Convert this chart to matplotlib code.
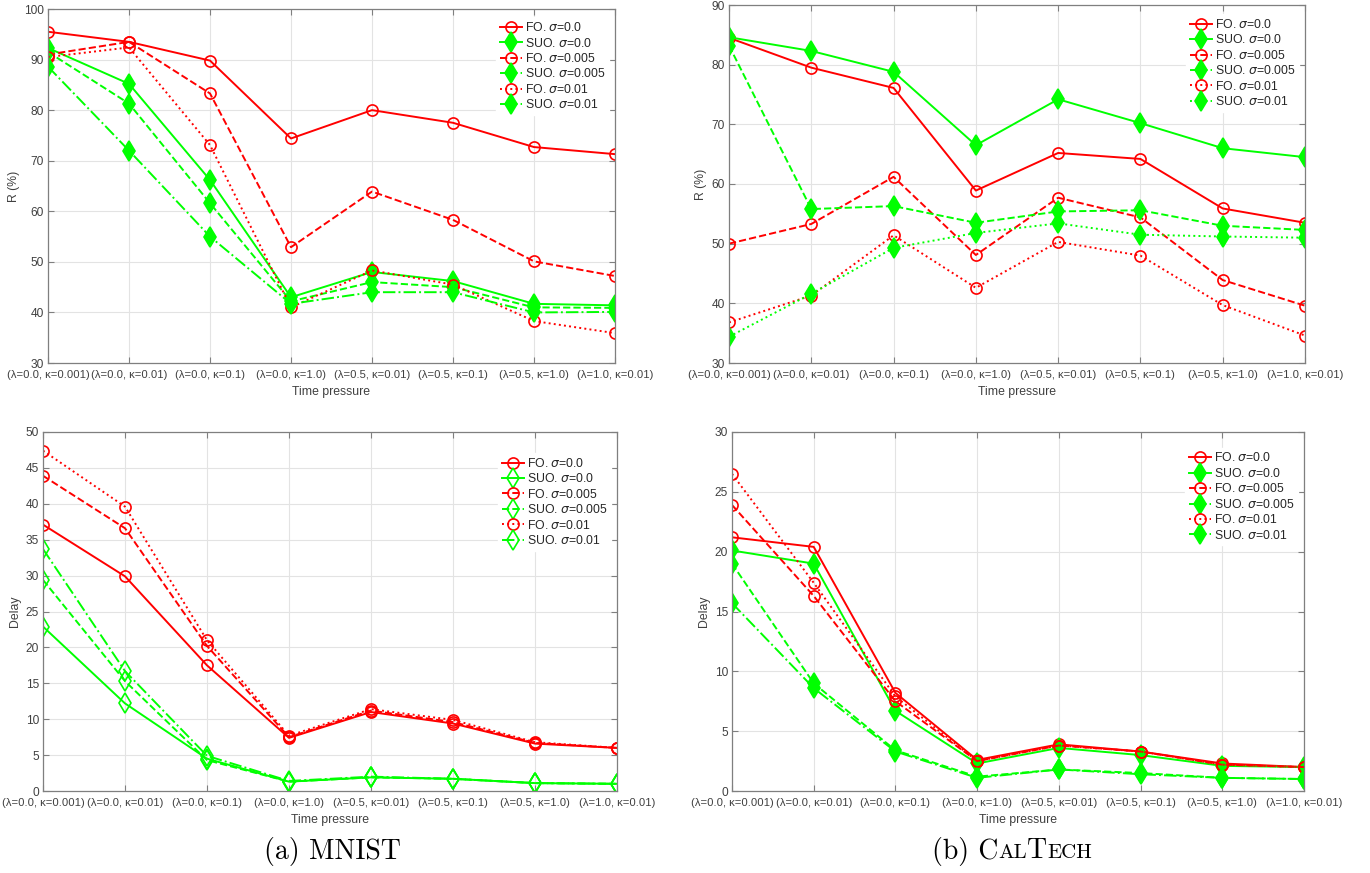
import matplotlib
matplotlib.use("Agg")
import matplotlib.pyplot as plt
from matplotlib.offsetbox import TextArea, HPacker, AnchoredOffsetbox
import numpy as np

plt.rcParams['font.family'] = ['Liberation Sans', 'DejaVu Sans']
plt.rcParams['mathtext.fontset'] = 'dejavusans'

#################
# data          #
#################

pressure = ['(λ=0.0, κ=0.001)', '(λ=0.0, κ=0.01)', '(λ=0.0, κ=0.1)', '(λ=0.0, κ=1.0)',
            '(λ=0.5, κ=0.01)', '(λ=0.5, κ=0.1)', '(λ=0.5, κ=1.0)', '(λ=1.0, κ=0.01)']
sigmas = ['0.0', '0.005', '0.01']

# MNIST, R (%)
mnist_r_fo = [
    [95.5, 93.5, 89.8, 74.4, 80.0, 77.5, 72.7, 71.3],
    [91.0, 93.5, 83.3, 52.9, 63.9, 58.3, 50.1, 47.2],
    [90.5, 92.4, 73.1, 41.0, 48.3, 45.5, 38.3, 35.9],
]
mnist_r_suo = [
    [92.3, 85.2, 66.2, 43.0, 48.0, 46.2, 41.7, 41.4],
    [91.5, 81.3, 61.6, 42.2, 46.0, 45.0, 41.0, 40.9],
    [88.6, 72.0, 55.0, 41.7, 44.0, 44.0, 40.0, 40.1],
]

# CalTech, R (%)
caltech_r_fo = [
    [84.5, 79.5, 76.1, 58.9, 65.2, 64.2, 55.9, 53.5],
    [50.0, 53.3, 61.2, 48.1, 57.7, 54.4, 43.9, 39.6],
    [36.8, 41.3, 51.4, 42.6, 50.3, 48.0, 39.7, 34.6],
]
caltech_r_suo = [
    [84.6, 82.3, 78.8, 66.5, 74.2, 70.2, 66.0, 64.5],
    [83.2, 55.8, 56.3, 53.5, 55.4, 55.6, 53.0, 52.3],
    [34.4, 41.6, 49.3, 51.8, 53.4, 51.5, 51.2, 51.0],
]

# MNIST, delay
mnist_d_fo = [
    [37.1, 29.9, 17.5, 7.4, 11.0, 9.4, 6.6, 6.0],
    [43.9, 36.6, 20.2, 7.5, 11.2, 9.6, 6.7, 6.0],
    [47.4, 39.6, 21.0, 7.7, 11.4, 9.9, 6.8, 6.0],
]
mnist_d_suo = [
    [22.9, 12.2, 4.5, 1.3, 1.9, 1.7, 1.1, 1.0],
    [29.4, 15.3, 4.3, 1.3, 1.9, 1.7, 1.1, 1.0],
    [33.7, 16.7, 4.9, 1.4, 2.0, 1.7, 1.1, 1.0],
]

# CalTech, delay
caltech_d_fo = [
    [21.2, 20.4, 8.2, 2.6, 3.9, 3.3, 2.3, 2.0],
    [23.9, 16.3, 7.5, 2.5, 3.8, 3.3, 2.2, 2.0],
    [26.5, 17.4, 7.9, 2.5, 3.8, 3.3, 2.2, 2.0],
]
caltech_d_suo = [
    [20.1, 19.0, 6.7, 2.3, 3.6, 3.0, 2.1, 2.0],
    [19.0, 9.0, 3.4, 1.2, 1.8, 1.5, 1.1, 1.0],
    [15.7, 8.6, 3.3, 1.1, 1.8, 1.4, 1.1, 1.0],
]

#################
# configuration #
#################

W, H = 1370, 873
fig = plt.figure(figsize=(W / 100, H / 100), dpi=100)

AXIS_GRAY = '#7f7f7f'
TEXT_GRAY = '#404040'


def px_axes(left, right, top, bottom):
    return fig.add_axes([left / W, 1 - bottom / H, (right - left) / W, (bottom - top) / H])


def draw_panel(ax, fo, suo, ylim, yticks, ylabel, suo_filled, suo_last_style, leg_anchor):
    x = np.arange(1, len(pressure) + 1)
    fo_styles = ['-', '--', ':']
    suo_styles = ['-', '--', suo_last_style]
    for i in range(3):
        ax.plot(x, fo[i], color='red', ls=fo_styles[i], lw=1.4, marker='o', ms=8,
                mfc='none', mec='red', mew=1.2, label='FO. $\\sigma$=' + sigmas[i])
        ax.plot(x, suo[i], color='#00ff00', ls=suo_styles[i], lw=1.4, marker='d', ms=10,
                mfc='#00ff00' if suo_filled else 'none', mec='#00ff00', mew=1.2,
                label='SUO. $\\sigma$=' + sigmas[i])
    ax.set_xlim(1, len(pressure))
    ax.set_ylim(*ylim)
    ax.set_yticks(yticks)
    ax.set_xticks(x)
    ax.set_xticklabels(pressure)
    ax.grid(True, color='#e3e3e3', lw=0.8)
    ax.set_axisbelow(True)
    for s in ax.spines.values():
        s.set_color(AXIS_GRAY)
        s.set_linewidth(0.9)
    ax.tick_params(direction='in', length=4, width=0.8, color=AXIS_GRAY,
                   labelcolor=TEXT_GRAY, labelsize=8.6, right=True, top=True)
    ax.tick_params(axis='x', pad=5, labelsize=8.1)
    ax.tick_params(axis='y', pad=3)
    ax.set_xlabel('Time pressure', fontsize=8.8, color=TEXT_GRAY, labelpad=4)
    ax.set_ylabel(ylabel, fontsize=8.8, color=TEXT_GRAY, labelpad=3)
    leg = ax.legend(loc='upper right', bbox_to_anchor=leg_anchor, fontsize=8.8,
                    frameon=True, facecolor='white', edgecolor='white', framealpha=1,
                    fancybox=False, handlelength=1.8, handletextpad=0.3,
                    labelspacing=0.2, borderpad=0.3, borderaxespad=0)
    for t in leg.get_texts():
        t.set_color('#262626')


#############
# R panels  #
#############

ax1 = px_axes(48, 615, 9, 363)
draw_panel(ax1, mnist_r_fo, mnist_r_suo, (30, 100), range(30, 101, 10), 'R (%)',
           True, '-.', (0.99, 0.976))

ax2 = px_axes(729, 1305, 5, 363)
draw_panel(ax2, caltech_r_fo, caltech_r_suo, (30, 90), range(30, 91, 10), 'R (%)',
           True, ':', (0.99, 0.974))

#################
# Delay panels  #
#################

ax3 = px_axes(43, 617, 432, 791)
draw_panel(ax3, mnist_d_fo, mnist_d_suo, (0, 50), range(0, 51, 5), 'Delay',
           False, '-.', (0.99, 0.941))

ax4 = px_axes(732, 1304, 432, 791)
draw_panel(ax4, caltech_d_fo, caltech_d_suo, (0, 30), range(0, 31, 5), 'Delay',
           True, '-.', (0.99, 0.956))

############
# captions #
############


def caption(x_px, parts):
    boxes = [TextArea(s, textprops=dict(fontfamily='cmr10', fontsize=fs, color='black'))
             for s, fs in parts]
    pack = HPacker(children=boxes, align='baseline', pad=0, sep=0)
    ab = AnchoredOffsetbox(loc='center', child=pack, frameon=False,
                           bbox_to_anchor=(x_px / W, 1 - 851 / H),
                           bbox_transform=fig.transFigure, borderpad=0, pad=0)
    fig.add_artist(ab)


caption(332, [('(a) MNIST', 20)])
caption(1012, [('(b) C', 20), ('AL', 15), ('T', 20), ('ECH', 15)])

plt.savefig('out.png', dpi=100)
plt.close()
